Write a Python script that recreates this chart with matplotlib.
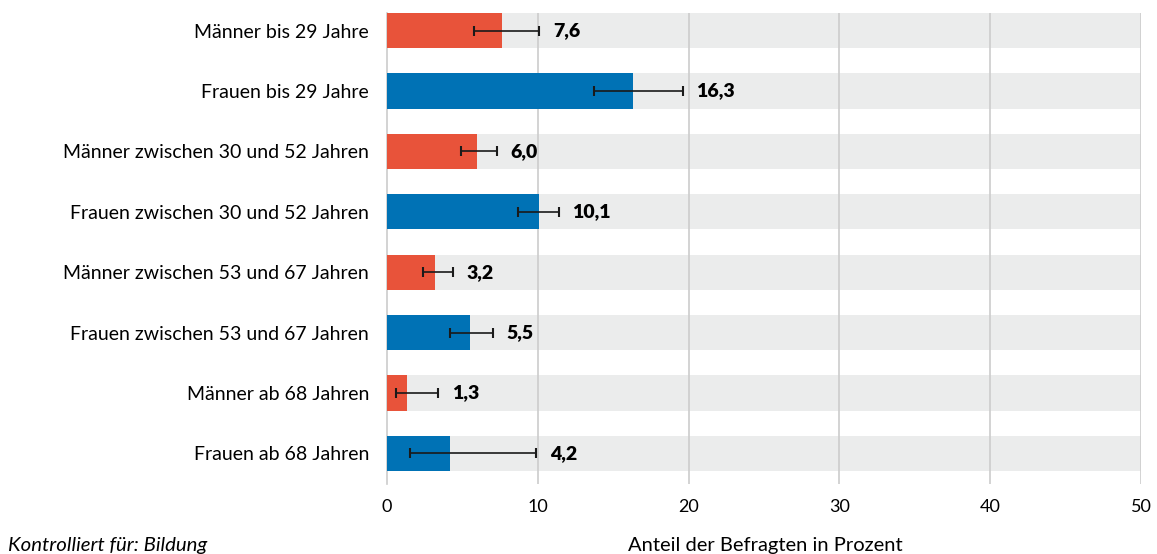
import numpy as np
import matplotlib
matplotlib.use("Agg")
import matplotlib.pyplot as plt

# data
labels = ["Männer bis 29 Jahre", "Frauen bis 29 Jahre",
          "Männer zwischen 30 und 52 Jahren", "Frauen zwischen 30 und 52 Jahren",
          "Männer zwischen 53 und 67 Jahren", "Frauen zwischen 53 und 67 Jahren",
          "Männer ab 68 Jahren", "Frauen ab 68 Jahren"]
values = [7.6, 16.3, 6.0, 10.1, 3.2, 5.5, 1.3, 4.2]
err_lo = [5.8, 13.7, 4.9, 8.7, 2.4, 4.2, 0.6, 1.5]
err_hi = [10.1, 19.6, 7.3, 11.4, 4.4, 7.0, 3.4, 9.9]
xticks = [0, 10, 20, 30, 40, 50]

red = "#E8533A"
blue = "#0072B5"
band = "#EBECEC"
gridc = "#CCCCCC"

plt.rcParams['font.family'] = ['Lato', 'DejaVu Sans']

W, H = 1157, 554
fig = plt.figure(figsize=(W / 100, H / 100), dpi=100)
ax = fig.add_axes([387 / W, 1 - 484 / H, (1141 - 387) / W, (484 - 13) / H])

y = np.arange(len(labels))
bh = 35 / 60
colors = [red if i % 2 == 0 else blue for i in range(len(labels))]

ax.barh(y, [50] * len(labels), height=bh, color=band, zorder=1)
for gx in xticks[1:]:
    ax.axvline(gx, color=gridc, lw=1.2, zorder=2)
ax.barh(y, values, height=bh, color=colors, zorder=3)

v = np.array(values)
xerr = [v - np.array(err_lo), np.array(err_hi) - v]
ax.errorbar(values, y, xerr=xerr, fmt='none', ecolor='#1a1a1a', elinewidth=1.2,
            capsize=3.3, capthick=1.5, zorder=4)

for i in range(len(labels)):
    xe = max(values[i], err_hi[i])
    ax.text(xe + 0.9, y[i], f"{values[i]:.1f}".replace(".", ","), va='center', ha='left',
            fontsize=14, fontweight='heavy', color='black', zorder=5)

ax.set_xlim(0, 50)
ax.set_ylim(7.508, -0.2917)
ax.set_yticks(y)
ax.set_yticklabels(labels, fontsize=14)
ax.set_xticks(xticks)
ax.set_xticklabels([str(t) for t in xticks], fontsize=13)
ax.tick_params(axis='both', length=0)
ax.tick_params(axis='y', pad=13)
ax.tick_params(axis='x', pad=11)
for s in ['top', 'right', 'bottom']:
    ax.spines[s].set_visible(False)
ax.spines['left'].set_color(gridc)
ax.spines['left'].set_linewidth(1.2)

fig.text(765 / W, 1 - 546 / H, "Anteil der Befragten in Prozent", ha='center', va='center', fontsize=14.5)
fig.text(8 / W, 1 - 545 / H, "Kontrolliert für: Bildung", ha='left', va='center', fontsize=14.7, style='italic')

fig.savefig("out.png", dpi=100)
